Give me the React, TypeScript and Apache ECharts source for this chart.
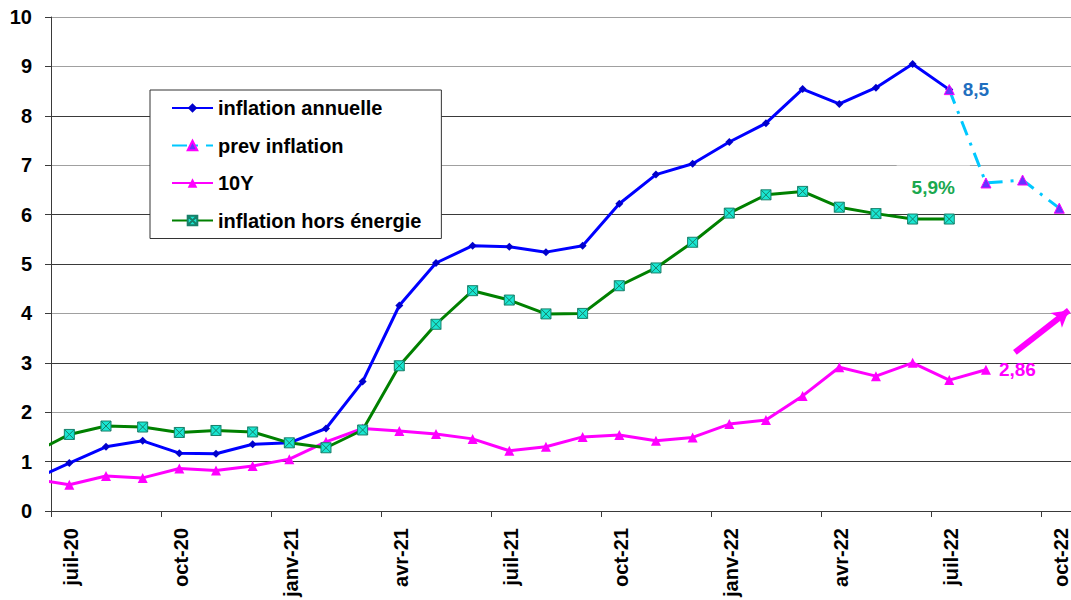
import React, { useEffect, useRef } from "react";
import * as echarts from "echarts";

// Months from juin-2020 to oct-2022 (index 0 = juin-20)
const months = [
  "2020-06", "2020-07", "2020-08", "2020-09", "2020-10", "2020-11", "2020-12",
  "2021-01", "2021-02", "2021-03", "2021-04", "2021-05", "2021-06", "2021-07",
  "2021-08", "2021-09", "2021-10", "2021-11", "2021-12", "2022-01", "2022-02",
  "2022-03", "2022-04", "2022-05", "2022-06", "2022-07", "2022-08", "2022-09", "2022-10",
];

const tickLabels = [
  "juil-20", "oct-20", "janv-21", "avr-21", "juil-21",
  "oct-21", "janv-22", "avr-22", "juil-22", "oct-22",
];

const inflationAnnuelle = [
  0.63, 0.97, 1.30, 1.42, 1.17, 1.16, 1.35, 1.38, 1.67, 2.62, 4.16, 5.02, 5.37,
  5.35, 5.24, 5.37, 6.22, 6.81, 7.03, 7.47, 7.85, 8.54, 8.24, 8.57, 9.05, 8.53,
  null, null, null,
];

const prevInflation = [
  null, null, null, null, null, null, null, null, null, null, null, null, null,
  null, null, null, null, null, null, null, null, null, null, null, null, 8.53,
  6.64, 6.70, 6.13,
];

const tenY = [
  0.65, 0.53, 0.71, 0.67, 0.86, 0.82, 0.91, 1.05, 1.40, 1.67, 1.62, 1.56, 1.46,
  1.22, 1.30, 1.50, 1.54, 1.42, 1.49, 1.76, 1.84, 2.33, 2.91, 2.73, 3.00, 2.65,
  2.86, null, null,
];

const horsEnergie = [
  1.17, 1.55, 1.72, 1.70, 1.59, 1.63, 1.60, 1.38, 1.28, 1.64, 2.94, 3.78, 4.46,
  4.27, 3.99, 4.00, 4.56, 4.92, 5.44, 6.03, 6.40, 6.47, 6.15, 6.02, 5.91, 5.91,
  null, null, null,
];

// annotations
const labelPrev = { month: "2022-07", text: "8,5" };
const labelCore = { month: "2022-07", text: "5,9%" };
const label10Y = { month: "2022-08", text: "2,86" };
const arrowFrom = [26.29, 3.21];
const arrowTo = [27.76, 4.06];

const FONT = "'Liberation Sans', Arial, sans-serif";

// x value: months since juil-20, points placed mid-month
const xOf = (i: number) => i - 1 + 0.5;

function build(values: (number | null)[], labelSpec?: { month: string; text: string }, labelStyle?: any) {
  const out: any[] = [];
  values.forEach((v, i) => {
    if (v === null) return;
    const item: any = { value: [xOf(i), v] };
    if (labelSpec && months[i] === labelSpec.month) {
      item.label = { show: true, formatter: labelSpec.text, ...labelStyle };
    }
    out.push(item);
  });
  return out;
}

const xSquare = "path://M0 0 L10 0 L10 10 L0 10 Z M0 0 L10 10 M10 0 L0 10";

export default function App() {
  const ref = useRef<HTMLDivElement>(null);
  useEffect(() => {
    if (!ref.current) return;
    const chart = echarts.init(ref.current, undefined, { renderer: "svg" });
    const dark = "#3a3a3a";
    const gray = "#a0a0a0";
    chart.setOption({
      animation: false,
      textStyle: { fontFamily: FONT },
      grid: { left: 51, right: 0, top: 17, bottom: 89, containLabel: false, outerBoundsMode: "none" },
      legend: {
        orient: "vertical",
        left: 150,
        top: 90,
        padding: [8, 20, 8, 21],
        itemGap: 17.5,
        itemWidth: 41,
        itemHeight: 12,
        backgroundColor: "#ffffff",
        borderColor: "#333333",
        borderWidth: 1,
        textStyle: { fontFamily: FONT, fontSize: 20, fontWeight: "bold", color: "#000", lineHeight: 20 },
        data: ["inflation annuelle", "prev inflation", "10Y", "inflation hors énergie"],
      },
      xAxis: {
        type: "value",
        min: 0,
        max: 27.82,
        interval: 3,
        axisLine: { show: true, lineStyle: { color: dark, width: 1 } },
        axisTick: { show: true, length: 6, lineStyle: { color: dark } },
        splitLine: { show: false },
        axisLabel: {
          rotate: 90,
          margin: 17,
          showMaxLabel: false,
          fontFamily: FONT,
          fontSize: 20,
          fontWeight: "bold",
          color: "#000",
          verticalAlign: "top",
          lineHeight: 40,
          formatter: (v: number) => (Math.abs(v / 3 - Math.round(v / 3)) < 1e-6 ? tickLabels[Math.round(v / 3)] ?? "" : ""),
        },
      },
      yAxis: {
        type: "value",
        min: 0,
        max: 10,
        interval: 1,
        axisLine: { show: true, lineStyle: { color: dark, width: 1 } },
        axisTick: { show: true, length: 6, lineStyle: { color: dark } },
        splitLine: {
          show: true,
          lineStyle: {
            width: 1,
            color: [dark, dark, gray, dark, gray, dark, dark, gray, dark, gray, gray],
          },
        },
        axisLabel: { margin: 19, fontFamily: FONT, fontSize: 20, fontWeight: "bold", color: "#000" },
      },
      series: [
        {
          name: "inflation annuelle",
          type: "line",
          data: build(inflationAnnuelle),
          symbol: "diamond",
          symbolSize: 8,
          itemStyle: { color: "#0000cc" },
          lineStyle: { color: "#0000ff", width: 3 },
          z: 3,
        },
        {
          name: "prev inflation",
          type: "line",
          data: build(prevInflation, labelPrev, {
            position: "right",
            distance: 8,
            color: "#1f6fbf",
            fontFamily: FONT,
            fontSize: 19,
            fontWeight: "bold",
          }),
          symbol: "triangle",
          symbolSize: 10,
          itemStyle: { color: "#6633ff", borderColor: "#ff00ff", borderWidth: 1 },
          lineStyle: { color: "#00c8ff", width: 3, type: [15, 8, 3, 8] },
          z: 4,
        },
        {
          name: "10Y",
          type: "line",
          data: build(tenY, label10Y, {
            position: "right",
            distance: 8,
            color: "#ff00ff",
            fontFamily: FONT,
            fontSize: 19,
            fontWeight: "bold",
          }),
          symbol: "triangle",
          symbolSize: 10,
          itemStyle: { color: "#ff00ff" },
          lineStyle: { color: "#ff00ff", width: 3 },
          markLine: {
            silent: true,
            symbol: ["none", "arrow"],
            symbolSize: [14, 16],
            label: { show: false },
            lineStyle: { color: "#ff00ff", width: 6, type: "solid" },
            data: [[{ coord: arrowFrom }, { coord: arrowTo }]],
          },
          z: 3,
        },
        {
          name: "inflation hors énergie",
          type: "line",
          data: build(horsEnergie, labelCore, {
            position: "top",
            distance: 5,
            offset: [-16, 0],
            color: "#1aa84f",
            fontFamily: FONT,
            fontSize: 19,
            fontWeight: "bold",
            backgroundColor: "#ffffff",
            padding: [12, 15, 12, 15],
          }),
          symbol: xSquare,
          symbolSize: 10,
          itemStyle: { color: "#19e6d2", borderColor: "#17806a", borderWidth: 1 },
          lineStyle: { color: "#008000", width: 3 },
          z: 3,
        },
      ],
    });
    return () => chart.dispose();
  }, []);
  return (
    <div
      ref={ref}
      style={{ position: "absolute", left: 0, top: 0, width: 1071, height: 600, background: "#fff" }}
    />
  );
}
